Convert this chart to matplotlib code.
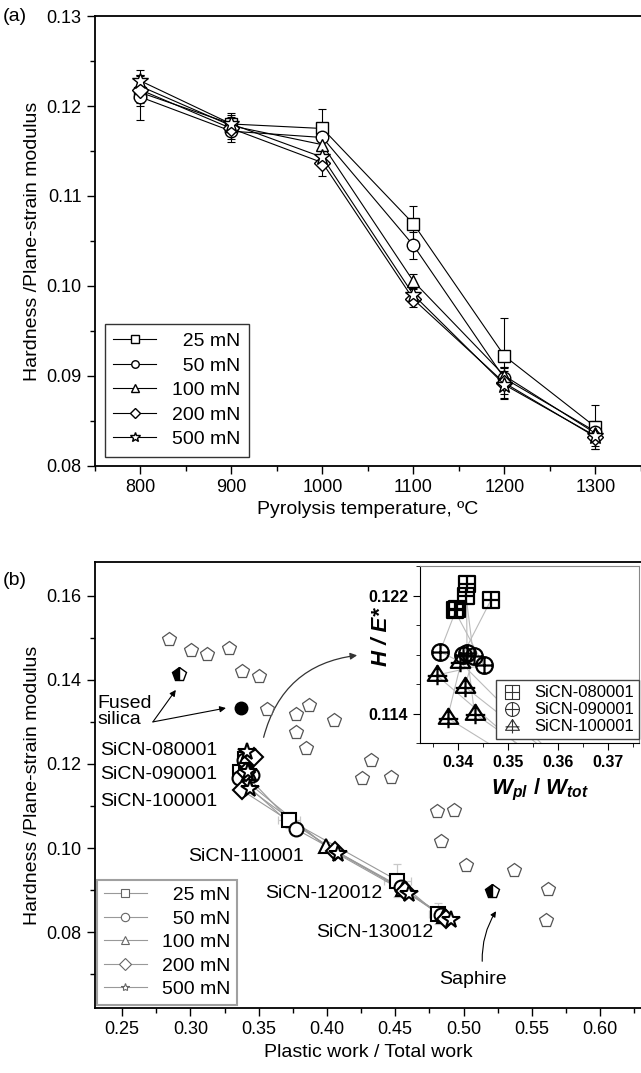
import numpy as np
import matplotlib.pyplot as plt
from matplotlib.path import Path
from matplotlib.patches import FancyArrowPatch
from matplotlib.ticker import MultipleLocator

plt.rcParams['font.family'] = ['Liberation Sans', 'DejaVu Sans']
plt.rcParams['mathtext.fontset'] = 'custom'
plt.rcParams['mathtext.it'] = 'Liberation Sans:italic:bold'
plt.rcParams['mathtext.rm'] = 'Liberation Sans:bold'

# ---------------- data ----------------
loads = ['25 mN', '50 mN', '100 mN', '200 mN', '500 mN']
markers = ['s', 'o', '^', 'D', '*']
temps = [800, 900, 1000, 1100, 1200, 1300]

# panel (a): H/E* vs pyrolysis temperature
he_25 = [0.1215, 0.1180, 0.1175, 0.1069, 0.0922, 0.0843]
he_50 = [0.1210, 0.1172, 0.1165, 0.1045, 0.0897, 0.0838]
he_100 = [0.1222, 0.1178, 0.1157, 0.1005, 0.0900, 0.0836]
he_200 = [0.1218, 0.1175, 0.1137, 0.0985, 0.0892, 0.0832]
he_500 = [0.1228, 0.1180, 0.1143, 0.0990, 0.0890, 0.0833]
err_25 = [0.0015, 0.0010, 0.0022, 0.0020, 0.0042, 0.0025]
err_50 = [0.0025, 0.0012, 0.0015, 0.0015, 0.0012, 0.0012]
err_100 = [0.0012, 0.0010, 0.0010, 0.0008, 0.0010, 0.0010]
err_200 = [0.0015, 0.0012, 0.0015, 0.0008, 0.0018, 0.0010]
err_500 = [0.0012, 0.0012, 0.0010, 0.0008, 0.0015, 0.0015]

# panel (b): H/E* vs Wpl/Wtot, samples 080001 ... 130012
wp_25 = [0.3397, 0.3364, 0.3404, 0.3722, 0.4515, 0.4810]
wp_50 = [0.3393, 0.3451, 0.3357, 0.3774, 0.4544, 0.4834]
wp_100 = [0.3416, 0.3431, 0.3414, 0.3992, 0.4555, 0.4858]
wp_200 = [0.3466, 0.3410, 0.3379, 0.4060, 0.4568, 0.4870]
wp_500 = [0.3417, 0.3418, 0.3433, 0.4084, 0.4604, 0.4906]
hb_25 = [0.1211, 0.1182, 0.1175, 0.1067, 0.0923, 0.0844]
hb_50 = [0.1210, 0.1173, 0.1166, 0.1045, 0.0907, 0.0840]
hb_100 = [0.1220, 0.1179, 0.1158, 0.1004, 0.0903, 0.0838]
hb_200 = [0.1217, 0.1180, 0.1137, 0.0994, 0.0899, 0.0832]
hb_500 = [0.1228, 0.1181, 0.1140, 0.0985, 0.0890, 0.0830]
wp_err_25 = [0.004, 0.004, 0.004, 0.008, 0.010, 0.006]
hb_err_25 = [0.0015, 0.0010, 0.0022, 0.0020, 0.0040, 0.0025]

# literature data (open pentagons)
lit_x = [0.2845, 0.3001, 0.3121, 0.3286, 0.3378, 0.3499, 0.3564, 0.3774, 0.3866,
         0.4048, 0.3774, 0.3847, 0.4321, 0.4253, 0.4471, 0.4803, 0.4931, 0.4834,
         0.5020, 0.5367, 0.5618, 0.5605]
lit_y = [0.1496, 0.1471, 0.1461, 0.1475, 0.1422, 0.1410, 0.1330, 0.1318, 0.1340,
         0.1304, 0.1276, 0.1239, 0.1209, 0.1166, 0.1169, 0.1089, 0.1090, 0.1016,
         0.0961, 0.0947, 0.0902, 0.0828]
ref_x = [0.2918, 0.5209]   # fused silica, saphire (half filled)
ref_y = [0.1414, 0.0899]
fs_x = [0.3371]            # fused silica (filled circle)
fs_y = [0.1333]

samples_inset = ['SiCN-080001', 'SiCN-090001', 'SiCN-100001']

he_a = [he_25, he_50, he_100, he_200, he_500]
err_a = [err_25, err_50, err_100, err_200, err_500]
wp_b = [wp_25, wp_50, wp_100, wp_200, wp_500]
hb_b = [hb_25, hb_50, hb_100, hb_200, hb_500]

# ---------------- figure ----------------
fig = plt.figure(figsize=(6.41, 10.73), dpi=100)
FS = 14
leg_labels = ['  25 mN', '  50 mN', '100 mN', '200 mN', '500 mN']

# ---- panel (a)
ax1 = fig.add_axes([0.148, 0.566, 0.852, 0.419])
for i in range(5):
    ms = 12 if markers[i] == '*' else (8 if markers[i] == 'D' else 9)
    ax1.errorbar(temps, he_a[i], yerr=err_a[i], fmt='none', ecolor='black',
                 elinewidth=0.8, capsize=3, capthick=0.8, zorder=2)
    ax1.plot(temps, he_a[i], marker=markers[i], ms=ms, mfc='white', mec='black',
             mew=1.0, color='black', lw=0.8, label=loads[i], zorder=3)
ax1.set_xlim(750, 1350)
ax1.set_ylim(0.08, 0.13)
ax1.xaxis.set_major_locator(MultipleLocator(100))
ax1.xaxis.set_minor_locator(MultipleLocator(50))
ax1.yaxis.set_major_locator(MultipleLocator(0.01))
ax1.yaxis.set_minor_locator(MultipleLocator(0.005))
ax1.yaxis.set_major_formatter(plt.FormatStrFormatter('%.2f'))
ax1.tick_params(which='both', direction='out', top=False, right=False, labelsize=13)
ax1.tick_params(which='major', length=6, width=1)
ax1.tick_params(which='minor', length=3.5, width=1)
ax1.spines['right'].set_visible(False)
for s in ['left', 'bottom', 'top']:
    ax1.spines[s].set_linewidth(1.3)
ax1.set_xlabel('Pyrolysis temperature, ºC', fontsize=FS)
ax1.set_ylabel('Hardness /Plane-strain modulus', fontsize=FS)
leg = ax1.legend(leg_labels, loc='lower left', bbox_to_anchor=(0.018, 0.02),
                 borderaxespad=0, fancybox=False, edgecolor='black', fontsize=FS,
                 markerscale=0.6, handlelength=2.2, labelspacing=0.35, borderpad=0.45)
leg.get_frame().set_linewidth(1.0)
fig.text(0.005, 0.985, '(a)', fontsize=FS, va='center')

# ---- panel (b)
ax2 = fig.add_axes([0.148, 0.0606, 0.852, 0.4156])
ax2.plot(lit_x, lit_y, ls='none', marker='p', ms=10, mfc='white', mec='#555555',
         mew=0.9, zorder=2)
ax2.plot(ref_x, ref_y, ls='none', marker='p', ms=10, fillstyle='left', mfc='black',
         mfcalt='white', mec='black', mew=1.0, zorder=2)
ax2.plot(fs_x, fs_y, ls='none', marker='o', ms=9, color='black', zorder=2)
ax2.errorbar(wp_25, hb_25, xerr=wp_err_25, yerr=hb_err_25, fmt='none',
             ecolor='#c8c8c8', elinewidth=0.9, capsize=3, capthick=0.9, zorder=1)
for i in range(5):
    ms = 13 if markers[i] == '*' else (9 if markers[i] == 'D' else 10)
    ax2.plot(wp_b[i], hb_b[i], color='#999999', lw=0.8, zorder=3)
    ax2.plot(wp_b[i], hb_b[i], ls='none', marker=markers[i], ms=ms, mfc='white',
             mec='black', mew=1.5, zorder=4)
# legend handles (gray)
hnd = [ax2.plot([], [], color='#999999', lw=0.8, marker=m, ms=6, mfc='white',
                mec='#666666', mew=0.8)[0] for m in markers]
leg2 = ax2.legend(hnd, leg_labels, loc='lower left', bbox_to_anchor=(0.004, 0.007),
                  borderaxespad=0, fancybox=False, edgecolor='#888888', fontsize=FS,
                  handlelength=2.2, labelspacing=0.3, borderpad=0.35)
leg2.get_frame().set_linewidth(1.5)
ax2.set_xlim(0.23, 0.63)
ax2.set_ylim(0.062, 0.168)
ax2.xaxis.set_major_locator(MultipleLocator(0.05))
ax2.xaxis.set_minor_locator(MultipleLocator(0.025))
ax2.yaxis.set_major_locator(MultipleLocator(0.02))
ax2.yaxis.set_minor_locator(MultipleLocator(0.01))
ax2.xaxis.set_major_formatter(plt.FormatStrFormatter('%.2f'))
ax2.yaxis.set_major_formatter(plt.FormatStrFormatter('%.2f'))
ax2.tick_params(which='both', direction='out', top=False, right=False, labelsize=13)
ax2.tick_params(which='major', length=6, width=1)
ax2.tick_params(which='minor', length=3.5, width=1)
ax2.spines['right'].set_visible(False)
for s in ['left', 'bottom', 'top']:
    ax2.spines[s].set_linewidth(1.3)
ax2.set_xlabel('Plastic work / Total work', fontsize=FS)
ax2.set_ylabel('Hardness /Plane-strain modulus', fontsize=FS)
fig.text(0.005, 0.459, '(b)', fontsize=FS, va='center')

# annotations
ax2.text(0.232, 0.1324, 'Fused\nsilica', fontsize=FS, ha='left', va='center',
         linespacing=0.95)
for tip in [(0.2893, 0.1376), (0.3260, 0.1333)]:
    ax2.annotate('', xy=tip, xytext=(0.2725, 0.1300),
                 arrowprops=dict(arrowstyle='-|>', color='black', lw=0.8,
                                 mutation_scale=9, shrinkA=0, shrinkB=0))
ax2.text(0.2335, 0.1233, 'SiCN-080001', fontsize=FS, ha='left', va='center')
ax2.text(0.2335, 0.1174, 'SiCN-090001', fontsize=FS, ha='left', va='center')
ax2.text(0.2335, 0.1110, 'SiCN-100001', fontsize=FS, ha='left', va='center')
ax2.text(0.3828, 0.0981, 'SiCN-110001', fontsize=FS, ha='right', va='center')
ax2.text(0.4407, 0.0891, 'SiCN-120012', fontsize=FS, ha='right', va='center')
ax2.text(0.4778, 0.0799, 'SiCN-130012', fontsize=FS, ha='right', va='center')
ax2.text(0.5066, 0.0687, 'Saphire', fontsize=FS, ha='center', va='center')
ax2.annotate('', xy=(0.5238, 0.0850), xytext=(0.5137, 0.0731),
             arrowprops=dict(arrowstyle='-|>', color='black', lw=0.8, mutation_scale=8,
                             shrinkA=0, shrinkB=0, connectionstyle='arc3,rad=-0.15'))
ax2.add_patch(FancyArrowPatch((0.3531, 0.1257), (0.4241, 0.1459),
                              connectionstyle='arc3,rad=-0.35', arrowstyle='-|>',
                              mutation_scale=10, color='#333333', lw=0.9))

# ---- inset
axi = fig.add_axes([420 / 641, 1 - 743 / 1073, 219 / 641, 177 / 1073])
sq_plus = Path([(-1, -1), (1, -1), (1, 1), (-1, 1), (-1, -1), (0, -1), (0, 1), (-1, 0), (1, 0)],
               [1, 2, 2, 2, 79, 1, 2, 1, 2])
circ_plus = Path.make_compound_path(Path.unit_circle(),
                                    Path([(0, -1), (0, 1), (-1, 0), (1, 0)], [1, 2, 1, 2]))
tri_plus = Path([(-1, -0.55), (1, -0.55), (0, 1.0), (-1, -0.55), (0, 1.0), (0, -1.0),
                 (-1, -0.05), (1, -0.05)], [1, 2, 2, 79, 1, 2, 1, 2])
inset_markers = [sq_plus, circ_plus, tri_plus]
for i in range(5):
    axi.plot(wp_b[i], hb_b[i], color='#bbbbbb', lw=0.8, zorder=1)
for j in range(3):
    xs = [wp_b[i][j] for i in range(5)]
    ys = [hb_b[i][j] for i in range(5)]
    axi.plot(xs, ys, ls='none', marker=inset_markers[j], ms=12 if j < 2 else 14,
             mfc='none', mec='black', mew=1.6, zorder=3)
ih = [axi.plot([], [], ls='none', marker=m, ms=10, mfc='none', mec='#333333',
               mew=0.8)[0] for m in inset_markers]
leg3 = axi.legend(ih, samples_inset, loc='lower right', bbox_to_anchor=(1.0, 0.02),
                  borderaxespad=0, fancybox=False, edgecolor='#444444', fontsize=12,
                  handlelength=1.4, labelspacing=0.12, borderpad=0.3, handletextpad=0.6,
                  framealpha=1)
axi.set_xlim(0.3324, 0.3762)
axi.set_ylim(0.112, 0.124)
axi.xaxis.set_major_locator(MultipleLocator(0.01))
axi.xaxis.set_minor_locator(MultipleLocator(0.005))
axi.set_yticks([0.114, 0.122])
axi.yaxis.set_minor_locator(MultipleLocator(0.002))
axi.xaxis.set_major_formatter(plt.FormatStrFormatter('%.2f'))
axi.yaxis.set_major_formatter(plt.FormatStrFormatter('%.3f'))
axi.tick_params(which='both', direction='out', top=False, right=False, labelsize=11.5)
axi.tick_params(which='major', length=5)
axi.tick_params(which='minor', length=3)
for t in axi.get_xticklabels() + axi.get_yticklabels():
    t.set_fontweight('bold')
for s in ['top', 'right']:
    axi.spines[s].set_color('#888888')
axi.set_xlabel(r'$W_{pl}\ /\ W_{tot}$', fontsize=16)
axi.xaxis.set_label_coords(0.55, -0.19)
axi.set_ylabel('H / E*', fontsize=16, fontweight='bold', fontstyle='italic')
axi.yaxis.set_label_coords(-0.13, 0.6)

fig.savefig('out.png', dpi=100)
